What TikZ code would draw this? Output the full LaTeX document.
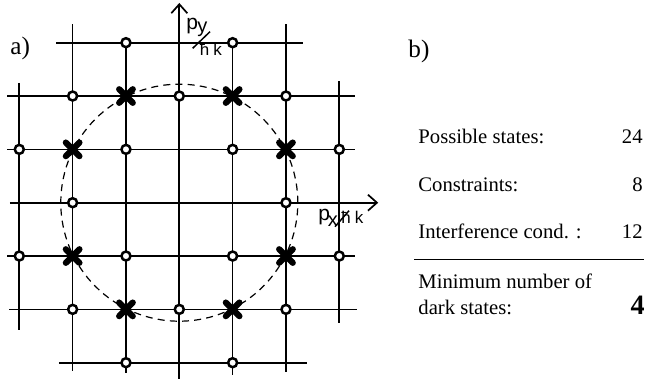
\documentclass[tikz,border=0pt]{standalone}
\usepackage{fontspec}
\setmainfont{Liberation Serif}
\newfontfamily\axfont{Liberation Sans}
\usetikzlibrary{arrows.meta}
\tikzset{
  gridline/.style={line width=0.85pt},
  axisline/.style={line width=0.85pt,-{Straight Barb[length=4.5pt,width=8pt,line width=0.85pt]}},
  state/.style={circle,draw,line width=1.25pt,fill=white,minimum size=4.5pt,inner sep=0pt},
  darkline/.style={line width=3.1pt,line cap=round},
  txt/.style={inner sep=0pt,font=\fontsize{10.35}{12}\selectfont},
  lbl/.style={inner sep=0pt,font=\fontsize{12.6}{14}\selectfont},
  axl/.style={inner sep=0pt,font=\axfont\fontsize{10.5}{12}\selectfont},
  axs/.style={inner sep=0pt,font=\axfont\fontsize{10}{11}\selectfont},
  axh/.style={inner sep=0pt,font=\axfont\fontsize{8.5}{9}\selectfont},
}
\begin{document}
\begin{tikzpicture}
\useasboundingbox (0,0) rectangle (324.5pt,189.5pt);
% grid part, in grid units
\begin{scope}[shift={(89.65pt,88.15pt)},x=26.667pt,y=26.667pt]
  % horizontal lines
  \draw[gridline] (-2.31,3) -- (2.32,3);
  \draw[gridline] (-3.23,2) -- (3.29,2);
  \draw[gridline] (-3.23,1) -- (3.29,1);
  \draw[gridline] (-3.23,-1) -- (3.29,-1);
  \draw[gridline] (-3.19,-2) -- (3.33,-2);
  \draw[gridline] (-2.26,-3) -- (2.39,-3);
  % vertical lines
  \draw[gridline] (-3,2.245) -- (-3,-2.387);
  \draw[gridline] (-2,3.35) -- (-2,-3.156);
  \draw[gridline] (-1,3) -- (-1,-3.19);
  \draw[gridline] (1,3) -- (1,-3.23);
  \draw[gridline] (2,3.35) -- (2,-3.17);
  \draw[gridline] (3,2.28) -- (3,-2.256);
  % axes
  \draw[axisline] (-3.175,0) -- (3.73,0);
  \draw[axisline] (0,-3.306) -- (0,3.745);
  % dashed circle
  \draw[line width=0.6pt,dash pattern=on 3.5pt off 2.6pt] (0,0) circle[radius=2.222];
  % open states
  \node[state] (s1) at (-1,3) {};
  \node[state] (s2) at (1,3) {};
  \node[state] (s3) at (-2,2) {};
  \node[state] (s4) at (0,2) {};
  \node[state] (s5) at (2,2) {};
  \node[state] (s6) at (-3,1) {};
  \node[state] (s7) at (-1,1) {};
  \node[state] (s8) at (1,1) {};
  \node[state] (s9) at (3,1) {};
  \node[state] (s10) at (-2,0) {};
  \node[state] (s11) at (2,0) {};
  \node[state] (s12) at (-3,-1) {};
  \node[state] (s13) at (-1,-1) {};
  \node[state] (s14) at (1,-1) {};
  \node[state] (s15) at (3,-1) {};
  \node[state] (s16) at (-2,-2) {};
  \node[state] (s17) at (0,-2) {};
  \node[state] (s18) at (2,-2) {};
  \node[state] (s19) at (-1,-3) {};
  \node[state] (s20) at (1,-3) {};
  % dark states
  \coordinate (d1) at (-1,2);
  \coordinate (d2) at (1,2);
  \coordinate (d3) at (-2,1);
  \coordinate (d4) at (2,1);
  \coordinate (d5) at (-2,-1);
  \coordinate (d6) at (2,-1);
  \coordinate (d7) at (-1,-2);
  \coordinate (d8) at (1,-2);
  \foreach \d in {d1,d2,d3,d4,d5,d6,d7,d8}{
    \draw[darkline] ([shift={(-3.4pt,-3.4pt)}]\d) -- ([shift={(3.4pt,3.4pt)}]\d);
    \draw[darkline] ([shift={(-3.4pt,3.4pt)}]\d) -- ([shift={(3.4pt,-3.4pt)}]\d);
  }
\end{scope}
% text part, in pixel units of the reference
\begin{scope}[shift={(0,189.5pt)},x=0.5pt,y=-0.5pt]
  \node[lbl,anchor=base west] (la) at (10,54.5) {a)};
  \node[lbl,anchor=base west] (lb) at (408,57.5) {b)};
  % axis labels
  \node[axl,anchor=base west] (py) at (186,29.5) {p};
  \node[axs,anchor=base west] (pyy) at (197,33) {y};
  \node[axh,anchor=base west] (pyh) at (199.5,55.5) {ħ};
  \node[axh,anchor=base west] (pyk) at (213,55.5) {k};
  \coordinate (ys1) at (192.7,48.3);
  \coordinate (ys2) at (210,31.7);
  \draw[line width=0.75pt] (ys1) -- (ys2);
  \node[axl,anchor=base west] (px) at (318,221) {p};
  \node[axs,anchor=base west] (pxx) at (327.5,227) {x};
  \node[axh,anchor=base west] (pxh) at (341,223.5) {ħ};
  \node[axh,anchor=base west] (pxk) at (354.5,223.5) {k};
  \coordinate (xs1) at (335,226.7);
  \coordinate (xs2) at (349,210.7);
  \draw[line width=0.75pt] (xs1) -- (xs2);
  % table
  \node[txt,anchor=base west] (t1) at (418,143.3) {Possible states:};
  \node[txt,anchor=base east] (v1) at (643,143.3) {24};
  \node[txt,anchor=base west] (t2) at (418,191.7) {Constraints:};
  \node[txt,anchor=base east] (v2) at (643,191.7) {8};
  \node[txt,anchor=base west] (t3) at (418,239) {Interference cond. :};
  \node[txt,anchor=base east] (v3) at (643,239) {12};
  \coordinate (r1) at (414,259.3);
  \coordinate (r2) at (644,259.3);
  \draw[line width=0.6pt] (r1) -- (r2);
  \node[txt,anchor=base west] (t4) at (418,288.3) {Minimum number of};
  \node[txt,anchor=base west] (t5) at (418,315) {dark states:};
  \node[inner sep=0pt,font=\bfseries\fontsize{14}{16}\selectfont,anchor=base east] (v4) at (645,315) {4};
\end{scope}
\end{tikzpicture}
\end{document}
